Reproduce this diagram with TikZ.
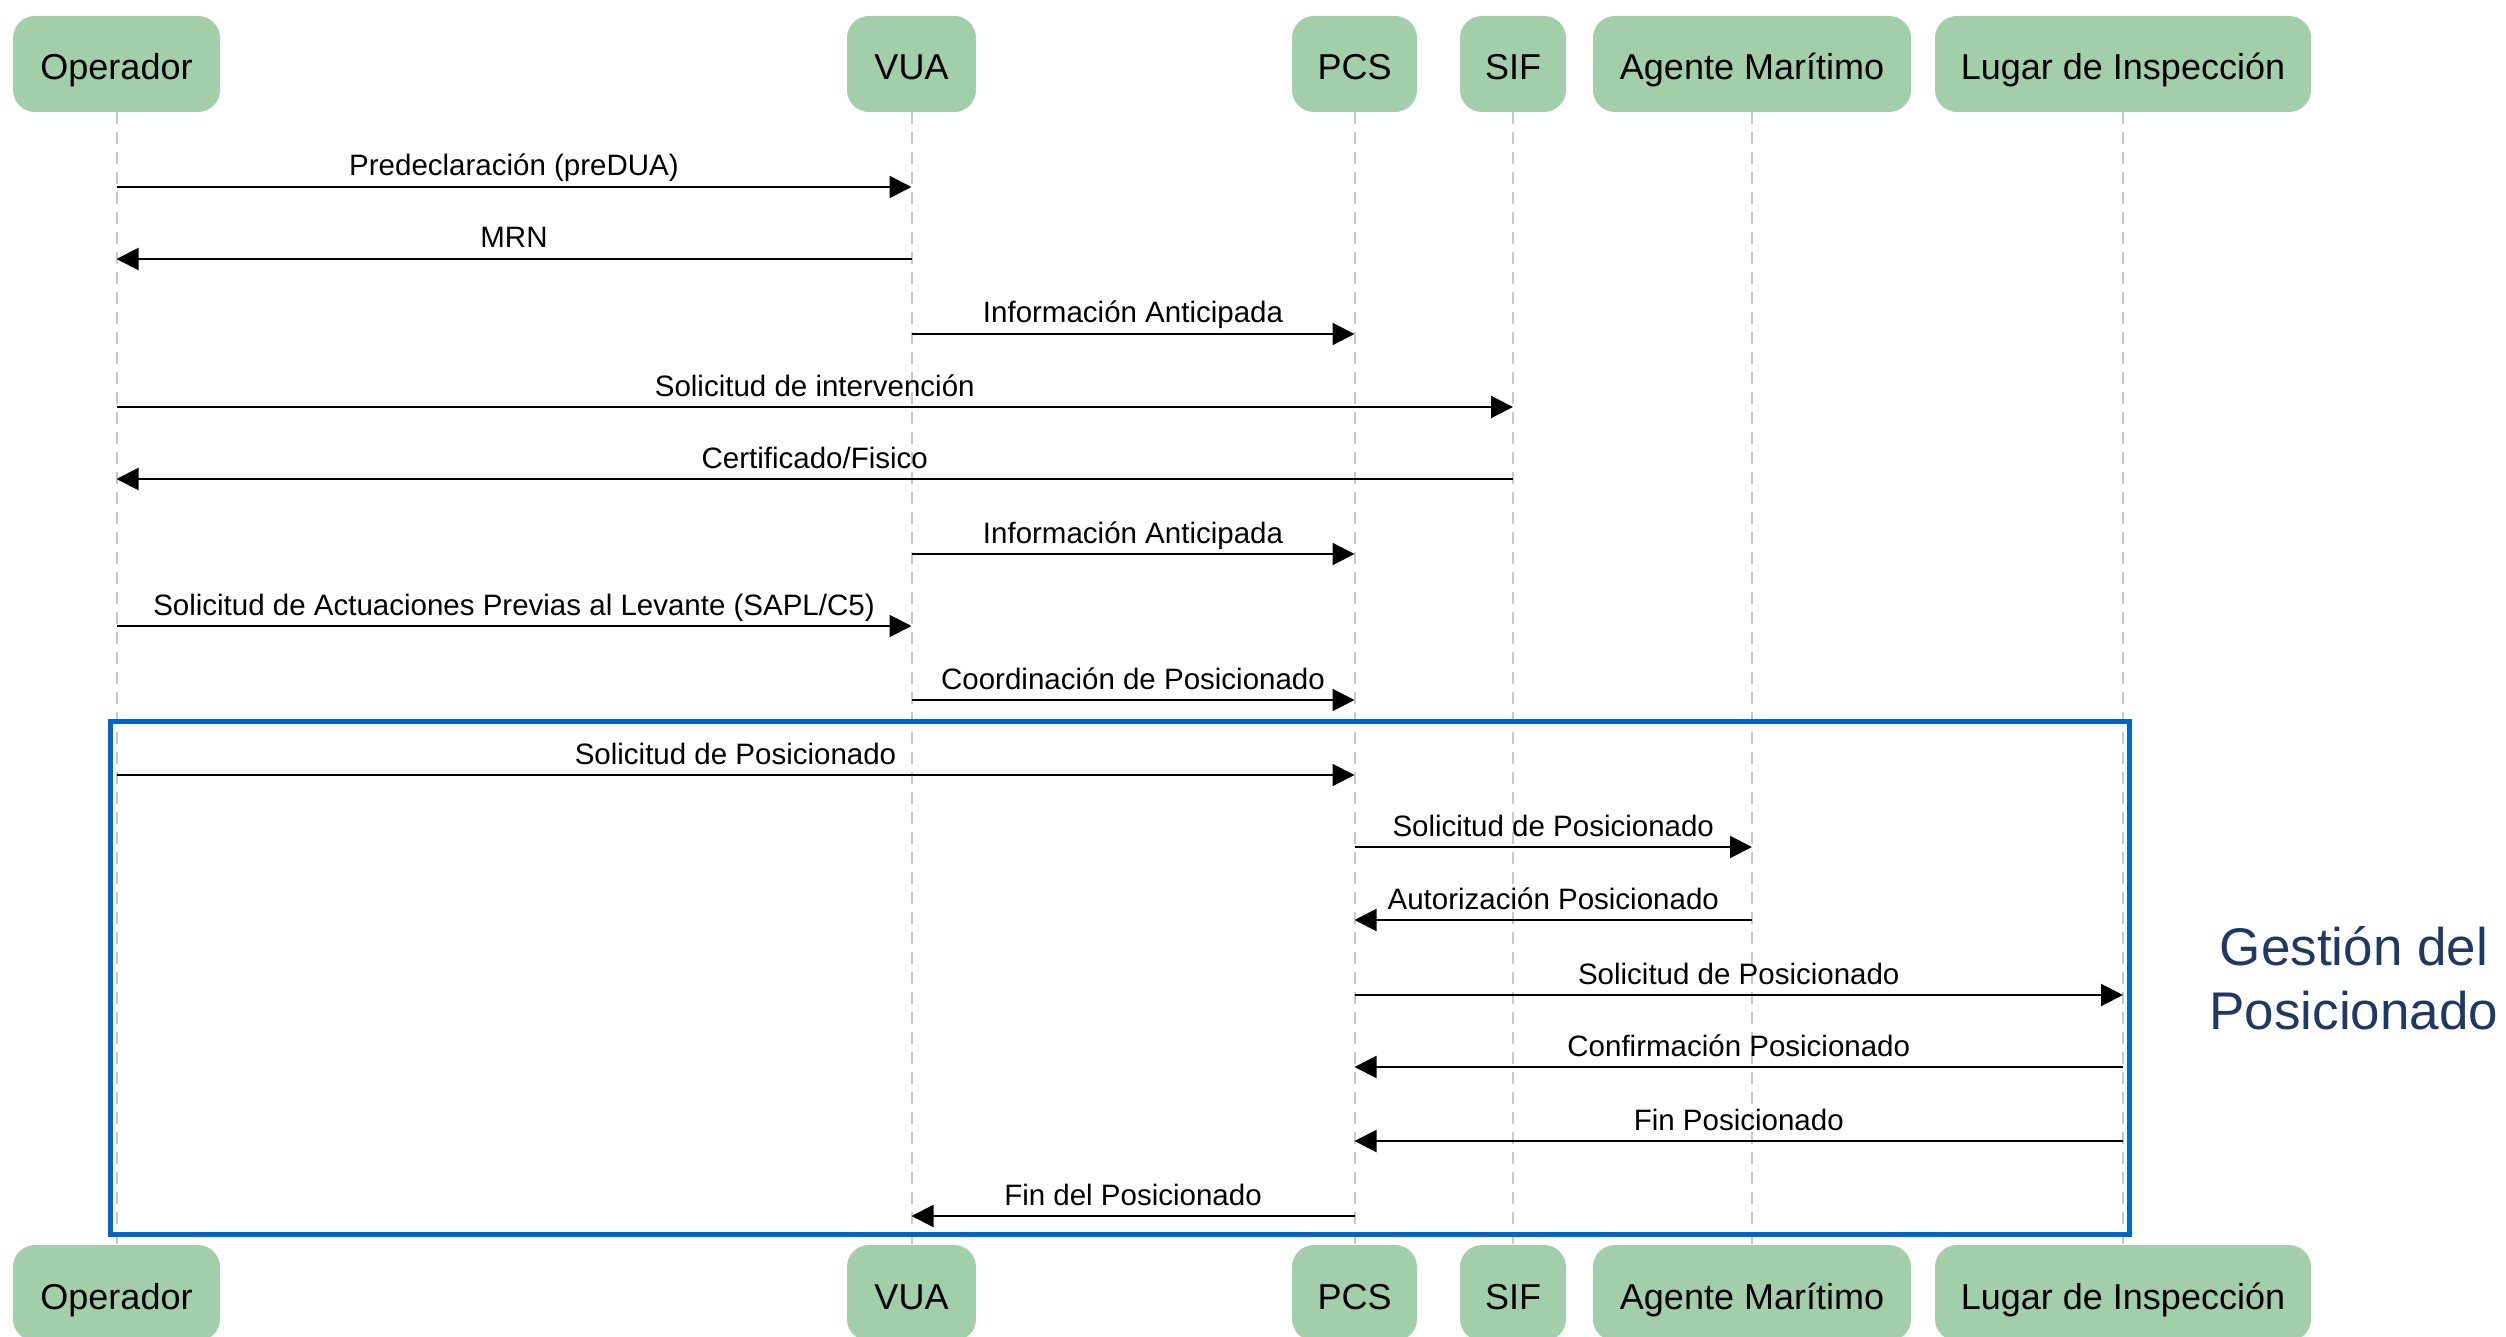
\documentclass[tikz,border=0pt]{standalone}
\usepackage{fontspec}
\setmainfont{Liberation Sans}
\usetikzlibrary{arrows.meta}
\definecolor{hdrgreen}{RGB}{162,207,169}
\definecolor{lifegray}{RGB}{200,200,200}
\definecolor{boxblue}{RGB}{0,102,204}
\definecolor{navy}{RGB}{31,56,100}
\tikzset{
  hdr/.style={fill=hdrgreen,draw=none,rounded corners=22pt,minimum height=96pt,inner sep=0pt,
    text height=40pt,text depth=8pt,font=\fontsize{36}{40}\selectfont},
  life/.style={draw=lifegray,line width=2pt,dash pattern=on 12pt off 8pt},
  msg/.style={draw=black,line width=2pt,-{Triangle[length=22pt,width=22pt]}},
  lbl/.style={anchor=base,inner sep=0pt,yshift=11pt,font=\fontsize{29.5}{33}\selectfont}
}
\begin{document}
\begin{tikzpicture}[x=1pt,y=-1pt]
\useasboundingbox (0,0) rectangle (2506,1337);
% headers top
\node[hdr,minimum width=207pt] (opT) at (116.5,64) {Operador};
\node[hdr,minimum width=129pt] (vuaT) at (911.5,64) {VUA};
\node[hdr,minimum width=125pt] (pcsT) at (1354.5,64) {PCS};
\node[hdr,minimum width=106pt] (sifT) at (1513,64) {SIF};
\node[hdr,minimum width=318pt] (agT) at (1752,64) {Agente Marítimo};
\node[hdr,minimum width=376pt] (luT) at (2123,64) {Lugar de Inspección};
% headers bottom
\node[hdr,minimum width=207pt] (opB) at (116.5,1293) {Operador};
\node[hdr,minimum width=129pt] (vuaB) at (911.5,1293) {VUA};
\node[hdr,minimum width=125pt] (pcsB) at (1354.5,1293) {PCS};
\node[hdr,minimum width=106pt] (sifB) at (1513,1293) {SIF};
\node[hdr,minimum width=318pt] (agB) at (1752,1293) {Agente Marítimo};
\node[hdr,minimum width=376pt] (luB) at (2123,1293) {Lugar de Inspección};
% lifelines
\foreach \a in {op,vua,pcs,sif,ag,lu}{
  \draw[life] (\a T.south) -- (\a B.north);
}
% messages
\draw[msg] (opT.south |- 0,187) -- node[lbl]{Predeclaración (preDUA)} (vuaT.south |- 0,187);
\draw[msg] (vuaT.south |- 0,259) -- node[lbl]{MRN} (opT.south |- 0,259);
\draw[msg] (vuaT.south |- 0,334) -- node[lbl]{Información Anticipada} (pcsT.south |- 0,334);
\draw[msg] (opT.south |- 0,407) -- node[lbl]{Solicitud de intervención} (sifT.south |- 0,407);
\draw[msg] (sifT.south |- 0,479) -- node[lbl]{Certificado/Fisico} (opT.south |- 0,479);
\draw[msg] (vuaT.south |- 0,554) -- node[lbl]{Información Anticipada} (pcsT.south |- 0,554);
\draw[msg] (opT.south |- 0,626) -- node[lbl]{Solicitud de Actuaciones Previas al Levante (SAPL/C5)} (vuaT.south |- 0,626);
\draw[msg] (vuaT.south |- 0,700) -- node[lbl]{Coordinación de Posicionado} (pcsT.south |- 0,700);
\draw[msg] (opT.south |- 0,775) -- node[lbl]{Solicitud de Posicionado} (pcsT.south |- 0,775);
\draw[msg] (pcsT.south |- 0,847) -- node[lbl]{Solicitud de Posicionado} (agT.south |- 0,847);
\draw[msg] (agT.south |- 0,920) -- node[lbl]{Autorización Posicionado} (pcsT.south |- 0,920);
\draw[msg] (pcsT.south |- 0,995) -- node[lbl]{Solicitud de Posicionado} (luT.south |- 0,995);
\draw[msg] (luT.south |- 0,1067) -- node[lbl]{Confirmación Posicionado} (pcsT.south |- 0,1067);
\draw[msg] (luT.south |- 0,1141) -- node[lbl]{Fin Posicionado} (pcsT.south |- 0,1141);
\draw[msg] (pcsT.south |- 0,1216) -- node[lbl]{Fin del Posicionado} (vuaT.south |- 0,1216);
% group box
\node[draw=boxblue,line width=5pt,minimum width=2019pt,minimum height=513pt,inner sep=0pt] (grp) at (1119.5,977.5) {};
\node[text=navy,align=center,font=\fontsize{53}{64}\selectfont] (glbl) at (2354,978) {Gestión del\\Posicionado};
\end{tikzpicture}
\end{document}
